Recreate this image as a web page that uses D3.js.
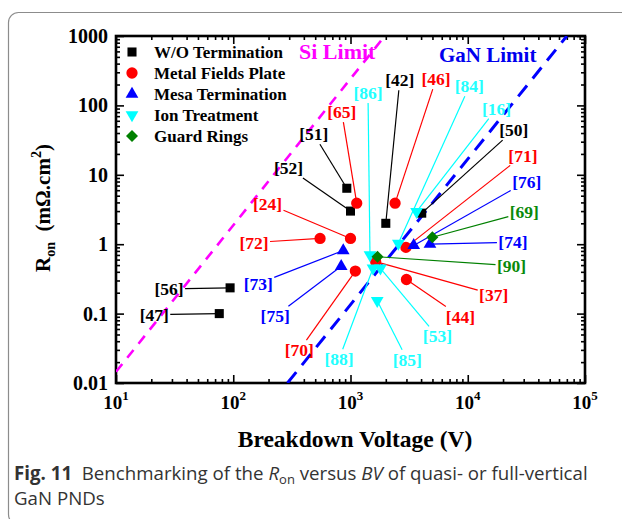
<!DOCTYPE html>
<html>
<head>
<meta charset="utf-8">
<script src="https://cdn.jsdelivr.net/npm/d3@7/dist/d3.min.js"></script>
<style>
body { margin: 0; background: #fff; }
.serif { font-family: "Liberation Serif", "Times New Roman", serif; font-weight: bold; }
.caption { font-family: "Open Sans", "Noto Sans", sans-serif; fill: #333; }
</style>
</head>
<body>
<svg id="chart" width="622" height="519"></svg>
<script>
// ---- DATA ----
var woRefs = ['[47]', '[56]', '[52]', '[51]', '[42]', '[50]'];
var woBV   = [76, 94, 1000, 930, 2000, 4050];
var woRon  = [0.1, 0.235, 3.0, 6.4, 2.0, 2.8];

var mfpRefs = ['[65]', '[46]', '[24]', '[72]', '[70]', '[37]', '[44]', '[71]'];
var mfpBV   = [1130, 2400, 1000, 550, 1100, 1640, 3000, 2970];
var mfpRon  = [3.9, 3.9, 1.21, 1.21, 0.41, 0.56, 0.31, 0.9];

var mesaRefs = ['[73]', '[75]', '[76]', '[74]'];
var mesaBV   = [867, 833, 3460, 4760];
var mesaRon  = [0.81, 0.48, 0.96, 1.0];

var ionRefs = ['[86]', '[88]', '[53]', '[85]', '[84]', '[16]'];
var ionBV   = [1466, 1555, 1800, 1690, 2560, 3660];
var ionRon  = [0.7, 0.45, 0.45, 0.153, 1.03, 2.94];

var grRefs = ['[69]', '[90]'];
var grBV   = [4990, 1700];
var grRon  = [1.26, 0.66];

// limit lines, two end points each
var siLimitBV  = [10, 1960];
var siLimitRon = [0.0145, 1000];
var ganLimitBV  = [290, 70000];
var ganLimitRon = [0.01, 1000];

var xMajor = [10, 100, 1000, 10000, 100000];
var yMajor = [0.01, 0.1, 1, 10, 100, 1000];
var yTickLabels = ['0.01', '0.1', '1', '10', '100', '1000'];

// ---- LAYOUT ----
// label text centre, offset in px from its point
var labelOffset = {
  '[47]': [-65, 1], '[56]': [-61, 1], '[52]': [-62, -43], '[51]': [-33, -54],
  '[42]': [14, -143], '[50]': [92, -83],
  '[65]': [-15, -91], '[46]': [41, -124], '[24]': [-83, -35], '[72]': [-66, 4],
  '[70]': [-56, 79], '[37]': [118, 33], '[44]': [54, 37], '[71]': [117, -92],
  '[73]': [-85, 33], '[75]': [-66, 50], '[76]': [113, -64], '[74]': [83, -2],
  '[86]': [-2, -162], '[88]': [-34, 91], '[53]': [57, 68], '[85]': [30, 59],
  '[84]': [71, -157], '[16]': [80, -103],
  '[69]': [92, -25], '[90]': [134, 9]
};

var series = [
  {name: 'W/O Termination', color: '#000000', text: '#000000', shape: 'square', refs: woRefs, bv: woBV, ron: woRon},
  {name: 'Metal Fields Plate', color: '#ff0000', text: '#ff0000', shape: 'circle', refs: mfpRefs, bv: mfpBV, ron: mfpRon},
  {name: 'Mesa Termination', color: '#0000ff', text: '#0000ff', shape: 'up', refs: mesaRefs, bv: mesaBV, ron: mesaRon},
  {name: 'Ion Treatment', color: '#00ffff', text: '#22ffff', shape: 'down', refs: ionRefs, bv: ionBV, ron: ionRon},
  {name: 'Guard Rings', color: '#008000', text: '#0a8a0a', shape: 'diamond', refs: grRefs, bv: grBV, ron: grRon}
];

// ---- SCALES ----
var svg = d3.select('#chart');
var plotLeft = 116, plotRight = 585, plotTop = 36, plotBottom = 383;

var scaleX = d3.scaleLog().domain([10, 1e5]).range([plotLeft, plotRight]);
var scaleY = d3.scaleLog().domain([0.01, 1000]).range([plotBottom, plotTop]);

var xMinor = [], yMinor = [];
xMajor.slice(0, -1).forEach(function(d){ for (var k = 2; k < 10; k++) xMinor.push(d * k); });
yMajor.slice(0, -1).forEach(function(d){ for (var k = 2; k < 10; k++) yMinor.push(d * k); });

// card border
svg.append('rect')
  .attr('x', 8.5).attr('y', 12.5).attr('width', 720).attr('height', 512)
  .attr('rx', 10)
  .style('fill', 'none').style('stroke', '#8c8c8c').style('stroke-width', 1.2);

// ---- AXES ----
function ticks(axis, values, size, tx, ty) {
  svg.append('g')
    .attr('transform', 'translate(' + tx + ',' + ty + ')')
    .call(axis.tickValues(values).tickSize(size).tickFormat(''))
    .call(function(g){
      g.select('.domain').remove();
      g.selectAll('line').style('stroke', '#000').style('stroke-width', 1.6);
    });
}
ticks(d3.axisBottom(scaleX), xMinor, -4, 0, plotBottom);
ticks(d3.axisBottom(scaleX), xMajor, -8, 0, plotBottom);
ticks(d3.axisTop(scaleX), xMinor, -4, 0, plotTop);
ticks(d3.axisTop(scaleX), xMajor, -8, 0, plotTop);
ticks(d3.axisLeft(scaleY), yMinor, -4, plotLeft, 0);
ticks(d3.axisLeft(scaleY), yMajor, -8, plotLeft, 0);
ticks(d3.axisRight(scaleY), yMinor, -4, plotRight, 0);
ticks(d3.axisRight(scaleY), yMajor, -8, plotRight, 0);

svg.append('rect')
  .attr('x', plotLeft).attr('y', plotTop)
  .attr('width', plotRight - plotLeft).attr('height', plotBottom - plotTop)
  .style('fill', 'none').style('stroke', '#000').style('stroke-width', 2.6);

// tick labels
svg.selectAll('.ylab').data(yMajor).enter().append('text')
  .attr('class', 'serif ylab')
  .attr('x', plotLeft - 8)
  .attr('y', function(d){ return scaleY(d); })
  .attr('dy', '0.35em')
  .attr('text-anchor', 'end')
  .style('font-size', '20px')
  .text(function(d, i){ return yTickLabels[i]; });

var xl = svg.selectAll('.xlab').data(xMajor).enter().append('text')
  .attr('class', 'serif xlab')
  .attr('x', function(d){ return scaleX(d); })
  .attr('y', 409)
  .attr('text-anchor', 'middle')
  .style('font-size', '19px');
xl.append('tspan').text('10');
xl.append('tspan').attr('dy', -9).style('font-size', '13px')
  .text(function(d){ return Math.round(Math.log10(d)); });

// axis titles
svg.append('text').attr('class', 'serif')
  .attr('x', 355).attr('y', 447)
  .attr('text-anchor', 'middle')
  .style('font-size', '23.5px')
  .text('Breakdown Voltage (V)');

var yt = svg.append('text').attr('class', 'serif')
  .attr('transform', 'translate(50,208) rotate(-90)')
  .attr('text-anchor', 'middle')
  .style('font-size', '21px');
yt.append('tspan').text('R');
yt.append('tspan').attr('dy', 5).style('font-size', '14px').text('on');
yt.append('tspan').attr('dy', -5).text('\u00a0 (m\u03a9.cm');
yt.append('tspan').attr('dy', -9).style('font-size', '14px').text('2');
yt.append('tspan').attr('dy', 9).text(')');

// ---- LIMIT LINES ----
svg.append('clipPath').attr('id', 'plotclip')
  .append('rect').attr('x', plotLeft).attr('y', plotTop)
  .attr('width', plotRight - plotLeft).attr('height', plotBottom - plotTop);

var limitLine = d3.line()
  .x(function(d){ return scaleX(d[0]); })
  .y(function(d){ return scaleY(d[1]); });

svg.append('path')
  .datum(d3.zip(siLimitBV, siLimitRon))
  .attr('d', limitLine)
  .attr('clip-path', 'url(#plotclip)')
  .style('fill', 'none').style('stroke', '#ff00ff')
  .style('stroke-width', 2.6).style('stroke-dasharray', '10,8');

svg.append('path')
  .datum(d3.zip(ganLimitBV, ganLimitRon))
  .attr('d', limitLine)
  .attr('clip-path', 'url(#plotclip)')
  .style('fill', 'none').style('stroke', '#0000ff')
  .style('stroke-width', 3).style('stroke-dasharray', '14,9');

svg.append('text').attr('class', 'serif')
  .attr('x', 299).attr('y', 59)
  .style('font-size', '22px').style('fill', '#ff00ff')
  .text('Si Limit');
svg.append('text').attr('class', 'serif')
  .attr('x', 439).attr('y', 62)
  .style('font-size', '21px').style('fill', '#0000ee')
  .text('GaN Limit');

// ---- MARKERS ----
function symbolPath(shape) {
  if (shape === 'square') return d3.symbol().type(d3.symbolSquare).size(82)();
  if (shape === 'circle') return d3.symbol().type(d3.symbolCircle).size(100)();
  if (shape === 'up' || shape === 'down') return d3.symbol().type(d3.symbolTriangle).size(70)();
  return d3.symbol().type(d3.symbolSquare).size(72)();
}
function symbolRotate(shape) {
  if (shape === 'down') return ' rotate(180)';
  if (shape === 'diamond') return ' rotate(45)';
  return '';
}

var points = [];
series.forEach(function(s){
  s.refs.forEach(function(r, i){
    points.push({ref: r, s: s, px: scaleX(s.bv[i]), py: scaleY(s.ron[i])});
  });
});

// leader lines + labels first, markers on top
var hw = 16, hh = 10;
points.forEach(function(p){
  var off = labelOffset[p.ref];
  var cx = p.px + off[0], cy = p.py + off[1];
  var dx = p.px - cx, dy = p.py - cy;
  var t = Math.min(dx ? hw / Math.abs(dx) : 1e9, dy ? hh / Math.abs(dy) : 1e9);
  svg.append('line')
    .attr('x1', p.px).attr('y1', p.py)
    .attr('x2', cx + dx * t).attr('y2', cy + dy * t)
    .style('stroke', p.s.color).style('stroke-width', 1.2);
  svg.append('text').attr('class', 'serif')
    .attr('x', cx).attr('y', cy).attr('dy', '0.35em')
    .attr('text-anchor', 'middle')
    .style('font-size', '17.5px').style('fill', p.s.text)
    .text(p.ref);
});

points.forEach(function(p){
  svg.append('path')
    .attr('d', symbolPath(p.s.shape))
    .attr('transform', 'translate(' + p.px + ',' + p.py + ')' + symbolRotate(p.s.shape))
    .style('fill', p.s.color);
});

// ---- LEGEND ----
var leg = svg.selectAll('.leg').data(series).enter().append('g')
  .attr('transform', function(d, i){ return 'translate(132,' + (52 + i * 21) + ')'; });
leg.append('path')
  .attr('d', function(d){ return symbolPath(d.shape); })
  .attr('transform', function(d){ return symbolRotate(d.shape).trim(); })
  .style('fill', function(d){ return d.color; });
leg.append('text').attr('class', 'serif')
  .attr('x', 22).attr('dy', '0.35em')
  .style('font-size', '17px')
  .text(function(d){ return d.name; });

// ---- CAPTION ----
var cap = svg.append('text').attr('class', 'caption')
  .attr('x', 14).attr('y', 480).style('font-size', '18.7px');
cap.append('tspan').style('font-weight', 'bold').text('Fig. 11');
cap.append('tspan').text('\u00a0\u00a0Benchmarking of the ');
cap.append('tspan').style('font-style', 'italic').text('R');
cap.append('tspan').attr('dy', 4).style('font-size', '13px').text('on');
cap.append('tspan').attr('dy', -4).text(' versus ');
cap.append('tspan').style('font-style', 'italic').text('BV');
cap.append('tspan').text(' of quasi- or full-vertical');

svg.append('text').attr('class', 'caption')
  .attr('x', 14).attr('y', 505).style('font-size', '18.7px')
  .text('GaN PNDs');
</script>
</body>
</html>
